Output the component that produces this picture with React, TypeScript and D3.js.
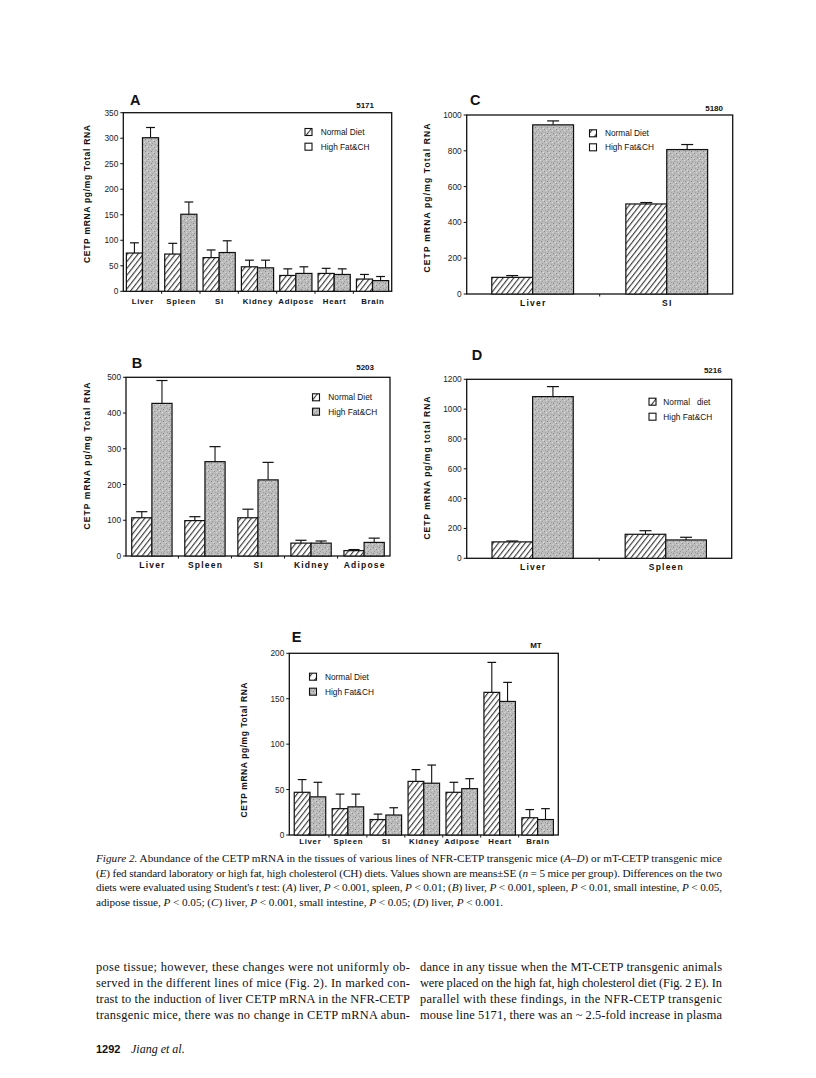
import React from "react";
import * as d3 from "d3";

// ---------- DATA ----------
const categoriesA = ["Liver", "Spleen", "SI", "Kidney", "Adipose", "Heart", "Brain"];
const normalA = [75, 73, 66, 48, 31, 35, 24];
const normalSeA = [20, 21, 15, 13, 13, 10, 9];
const highA = [301, 151, 76, 46, 35, 33, 21];
const highSeA = [20, 24, 23, 15, 13, 11, 8];
const ticksA = [0, 50, 100, 150, 200, 250, 300, 350];

const categoriesB = ["Liver", "Spleen", "SI", "Kidney", "Adipose"];
const normalB = [107, 99, 107, 36, 15];
const normalSeB = [17, 11, 24, 8, 3];
const highB = [427, 264, 213, 36, 38];
const highSeB = [64, 42, 49, 6, 12];
const ticksB = [0, 100, 200, 300, 400, 500];

const categoriesC = ["Liver", "SI"];
const normalC = [93, 503];
const normalSeC = [10, 8];
const highC = [945, 807];
const highSeC = [22, 28];
const ticksC = [0, 200, 400, 600, 800, 1000];

const categoriesD = ["Liver", "Spleen"];
const normalD = [110, 161];
const normalSeD = [6, 24];
const highD = [1084, 123];
const highSeD = [67, 18];
const ticksD = [0, 200, 400, 600, 800, 1000, 1200];

const categoriesE = ["Liver", "Spleen", "SI", "Kidney", "Adipose", "Heart", "Brain"];
const normalE = [47, 29, 17, 59, 47, 157, 19];
const normalSeE = [14, 16, 6, 13, 11, 33, 9];
const highE = [42, 31, 22, 57, 51, 147, 17];
const highSeE = [16, 14, 8, 20, 11, 21, 12];
const ticksE = [0, 50, 100, 150, 200];

const legendNormal = "Normal Diet";
const legendHigh = "High Fat&CH";

// ---------- PANEL ----------
const SANS = "'Liberation Sans', Arial, sans-serif";
const SERIF = "'Liberation Serif', 'Times New Roman', serif";

type PanelProps = {
  left: number; right: number; top: number; bottom: number;
  yMax: number; ticks: number[];
  categories: string[]; normal: number[]; normalSe: number[]; high: number[]; highSe: number[];
  pi: number; po: number;
  letter: string; letterX: number; letterY: number;
  lineNo: string; lineNoX: number; lineNoY: number;
  legX: number; legY1: number; legY2: number; legTextX: number; legNormal: string; legHighFill: string;
  yLabel: string; yLabelX: number; yLabelY: number; yLabelLen: number;
  catY: number; catSize: number; catSpacing: number;
};

function Panel(p: PanelProps) {
  const x = d3.scaleBand<string>().domain(p.categories).range([p.left, p.right]).paddingInner(p.pi).paddingOuter(p.po);
  const inner = d3.scaleBand<string>().domain(["normal", "high"]).range([0, x.bandwidth()]);
  const y = d3.scaleLinear().domain([0, p.yMax]).range([p.bottom, p.top]);
  const bw = inner.bandwidth();
  const cap = Math.min(bw * 0.55, 12);
  const step = x.step();

  const bars: any[] = [];
  p.categories.forEach((c, i) => {
    const series = [
      { key: "normal", v: p.normal[i], se: p.normalSe[i], fill: "url(#hatch)" },
      { key: "high", v: p.high[i], se: p.highSe[i], fill: "url(#stip)" },
    ];
    series.forEach((s) => {
      const bx = (x(c) as number) + (inner(s.key) as number);
      const cx = bx + bw / 2;
      bars.push(
        <g key={c + s.key}>
          <line x1={cx} x2={cx} y1={y(s.v)} y2={y(s.v + s.se)} stroke="#111" strokeWidth={1.1} />
          <line x1={cx - cap / 2} x2={cx + cap / 2} y1={y(s.v + s.se)} y2={y(s.v + s.se)} stroke="#111" strokeWidth={1.2} />
          <rect x={bx} y={y(s.v)} width={bw} height={p.bottom - y(s.v)} fill={s.fill} stroke="#111" strokeWidth={1.2} />
        </g>
      );
    });
  });

  return (
    <g>
      <rect x={p.left} y={p.top} width={p.right - p.left} height={p.bottom - p.top} fill="none" stroke="#111" strokeWidth={1.3} />
      {p.ticks.map((t) => (
        <g key={t}>
          <line x1={p.left - 3} x2={p.left} y1={y(t)} y2={y(t)} stroke="#111" strokeWidth={1} />
          <text x={p.left - 5} y={y(t) + 3} textAnchor="end" fontFamily={SANS} fontSize={8.3} fill="#222">{t}</text>
        </g>
      ))}
      {p.categories.slice(1).map((c) => (
        <line key={"b" + c} x1={(x(c) as number) - (step - x.bandwidth()) / 2} x2={(x(c) as number) - (step - x.bandwidth()) / 2}
          y1={p.bottom} y2={p.bottom + 2.5} stroke="#111" strokeWidth={1} />
      ))}
      {bars}
      {p.categories.map((c) => (
        <text key={"l" + c} x={(x(c) as number) + x.bandwidth() / 2 + p.catSpacing / 2} y={p.catY} textAnchor="middle" fontFamily={SANS}
          fontSize={p.catSize} fontWeight="bold" letterSpacing={p.catSpacing} fill="#111">{c}</text>
      ))}
      <text transform={`translate(${p.yLabelX},${p.yLabelY}) rotate(-90)`} textAnchor="middle" fontFamily={SANS}
        fontSize={8.5} fontWeight="bold" textLength={p.yLabelLen} lengthAdjust="spacing" fill="#111">{p.yLabel}</text>
      <text x={p.letterX} y={p.letterY} fontFamily={SANS} fontSize={14.5} fontWeight="bold" fill="#111">{p.letter}</text>
      <text x={p.lineNoX} y={p.lineNoY} textAnchor="end" fontFamily={SANS} fontSize={8} fontWeight="bold" fill="#111">{p.lineNo}</text>
      <rect x={p.legX} y={p.legY1 - 3.5} width={7} height={7} fill="url(#hatchL)" stroke="#111" strokeWidth={1.1} />
      <text x={p.legTextX} y={p.legY1 + 3} fontFamily={SANS} fontSize={8.3} fill="#111" style={{ whiteSpace: "pre" }}>{p.legNormal}</text>
      <rect x={p.legX} y={p.legY2 - 3.5} width={7} height={7} fill={p.legHighFill} stroke="#111" strokeWidth={1.1} />
      <text x={p.legTextX} y={p.legY2 + 3} fontFamily={SANS} fontSize={8.3} fill="#111">{legendHigh}</text>
    </g>
  );
}

// ---------- TEXT ----------
type Seg = [string, boolean];
const captionLines: Seg[][] = [
  [["Figure 2.", true], [" Abundance of the CETP mRNA in the tissues of various lines of NFR-CETP transgenic mice (", false], ["A–D", true], [") or mT-CETP transgenic mice", false]],
  [["(", false], ["E", true], [") fed standard laboratory or high fat, high cholesterol (CH) diets. Values shown are means±SE (", false], ["n", true], [" = 5 mice per group). Differences on the two", false]],
  [["diets were evaluated using Student's ", false], ["t", true], [" test: (", false], ["A", true], [") liver, ", false], ["P", true], [" < 0.001, spleen, ", false], ["P", true], [" < 0.01; (", false], ["B", true], [") liver, ", false], ["P", true], [" < 0.001, spleen, ", false], ["P", true], [" < 0.01, small intestine, ", false], ["P", true], [" < 0.05,", false]],
  [["adipose tissue, ", false], ["P", true], [" < 0.05; (", false], ["C", true], [") liver, ", false], ["P", true], [" < 0.001, small intestine, ", false], ["P", true], [" < 0.05; (", false], ["D", true], [") liver, ", false], ["P", true], [" < 0.001.", false]],
];
const captionLengths = [626, 626, 626, 407];

const bodyLeft = [
  "pose tissue; however, these changes were not uniformly ob-",
  "served in the different lines of mice (Fig. 2). In marked con-",
  "trast to the induction of liver CETP mRNA in the NFR-CETP",
  "transgenic mice, there was no change in CETP mRNA abun-",
];
const bodyRight = [
  "dance in any tissue when the MT-CETP transgenic animals",
  "were placed on the high fat, high cholesterol diet (Fig. 2 E). In",
  "parallel with these findings, in the NFR-CETP transgenic",
  "mouse line 5171, there was an ~ 2.5-fold increase in plasma",
];

export default function App() {
  const yLab = "CETP mRNA pg/mg Total RNA";
  return (
    <svg width={816} height={1078} style={{ position: "absolute", left: 0, top: 0, background: "#fff" }}>
      <defs>
        <pattern id="hatch" patternUnits="userSpaceOnUse" width={4.2} height={10} patternTransform="rotate(38)">
          <rect width={4.2} height={10} fill="#fff" />
          <line x1={0.6} y1={0} x2={0.6} y2={10} stroke="#222" strokeWidth={1} />
        </pattern>
        <pattern id="hatchL" patternUnits="userSpaceOnUse" width={6} height={10} patternTransform="rotate(38)">
          <rect width={6} height={10} fill="#fff" />
          <line x1={0.6} y1={0} x2={0.6} y2={10} stroke="#222" strokeWidth={1} />
        </pattern>
        <pattern id="stip" patternUnits="userSpaceOnUse" width={6} height={6}>
          <rect width={6} height={6} fill="#bcbcbc" />
          <rect x={1} y={1} width={1} height={1} fill="#858585" />
          <rect x={4} y={3} width={1} height={1} fill="#8e8e8e" />
          <rect x={2} y={5} width={1} height={1} fill="#9a9a9a" />
          <rect x={5} y={0} width={1} height={1} fill="#a0a0a0" />
          <rect x={3} y={2} width={1} height={1} fill="#dedede" />
          <rect x={0} y={4} width={1} height={1} fill="#dadada" />
        </pattern>
      </defs>

      <Panel left={123.3} right={391.7} top={112.7} bottom={291.3} yMax={350} ticks={ticksA}
        categories={categoriesA} normal={normalA} normalSe={normalSeA} high={highA} highSe={highSeA}
        pi={0.16} po={0.08}
        letter="A" letterX={130} letterY={105} lineNo="5171" lineNoX={374} lineNoY={108}
        legX={305} legY1={132} legY2={146.7} legTextX={320.7} legNormal={legendNormal} legHighFill="#fff"
        yLabel={yLab} yLabelX={90} yLabelY={194} yLabelLen={138} catY={304} catSize={7.8} catSpacing={0.7} />

      <Panel left={466.7} right={732.7} top={115} bottom={294} yMax={1000} ticks={ticksC}
        categories={categoriesC} normal={normalC} normalSe={normalSeC} high={highC} highSe={highSeC}
        pi={0.39} po={0.187}
        letter="C" letterX={470} letterY={105} lineNoX={723} lineNoY={111} lineNo="5180"
        legX={589.5} legY1={133.3} legY2={147.3} legTextX={605} legNormal={legendNormal} legHighFill="#fff"
        yLabel={yLab} yLabelX={430} yLabelY={198} yLabelLen={149} catY={306} catSize={8.5} catSpacing={1.2} />

      <Panel left={126} right={390} top={377.3} bottom={556} yMax={500} ticks={ticksB}
        categories={categoriesB} normal={normalB} normalSe={normalSeB} high={highB} highSe={highSeB}
        pi={0.24} po={0.108}
        letter="B" letterX={131.7} letterY={368} lineNo="5203" lineNoX={374} lineNoY={369.5}
        legX={312.5} legY1={397.3} legY2={411.7} legTextX={328.3} legNormal={legendNormal} legHighFill="url(#stip)"
        yLabel={yLab} yLabelX={90} yLabelY={456} yLabelLen={147} catY={568} catSize={8.5} catSpacing={1.2} />

      <Panel left={466.7} right={731.7} top={379.3} bottom={558.3} yMax={1200} ticks={ticksD}
        categories={categoriesD} normal={normalD} normalSe={normalSeD} high={highD} highSe={highSeD}
        pi={0.39} po={0.19}
        letter="D" letterX={471.7} letterY={360} lineNo="5216" lineNoX={721.7} lineNoY={373}
        legX={649} legY1={401.7} legY2={416.7} legTextX={663.3} legNormal={"Normal   diet"} legHighFill="#fff"
        yLabel={"CETP mRNA pg/mg total RNA"} yLabelX={430} yLabelY={468} yLabelLen={143} catY={570} catSize={8.5} catSpacing={1.2} />

      <Panel left={289.3} right={558.3} top={653.3} bottom={835} yMax={200} ticks={ticksE}
        categories={categoriesE} normal={normalE} normalSe={normalSeE} high={highE} highSe={highSeE}
        pi={0.17} po={0.13}
        letter="E" letterX={291.7} letterY={642} lineNo="MT" lineNoX={541.7} lineNoY={648}
        legX={309.5} legY1={676.7} legY2={691.7} legTextX={325} legNormal={legendNormal} legHighFill="url(#stip)"
        yLabel={yLab} yLabelX={247} yLabelY={750} yLabelLen={135} catY={844} catSize={7.8} catSpacing={0.7} />

      {captionLines.map((segs, i) => (
        <text key={"cap" + i} x={96} y={862 + i * 14.5} fontFamily={SERIF} fontSize={11.2} fill="#111"
          textLength={captionLengths[i]} lengthAdjust="spacing">
          {segs.map((s, j) => (
            <tspan key={j} fontStyle={s[1] ? "italic" : "normal"}>{s[0]}</tspan>
          ))}
        </text>
      ))}

      {bodyLeft.map((t, i) => (
        <text key={"bl" + i} x={96} y={971 + i * 16} fontFamily={SERIF} fontSize={12.4} fill="#111"
          textLength={314} lengthAdjust="spacing">{t}</text>
      ))}
      {bodyRight.map((t, i) => (
        <text key={"br" + i} x={420} y={971 + i * 16} fontFamily={SERIF} fontSize={12.4} fill="#111"
          textLength={302} lengthAdjust="spacing">{t}</text>
      ))}

      <text x={96} y={1053} fontFamily={SANS} fontSize={11} fontWeight="bold" fill="#111">1292</text>
      <text x={131} y={1053} fontFamily={SERIF} fontSize={12} fontStyle="italic" fill="#111">Jiang et al.</text>
    </svg>
  );
}
